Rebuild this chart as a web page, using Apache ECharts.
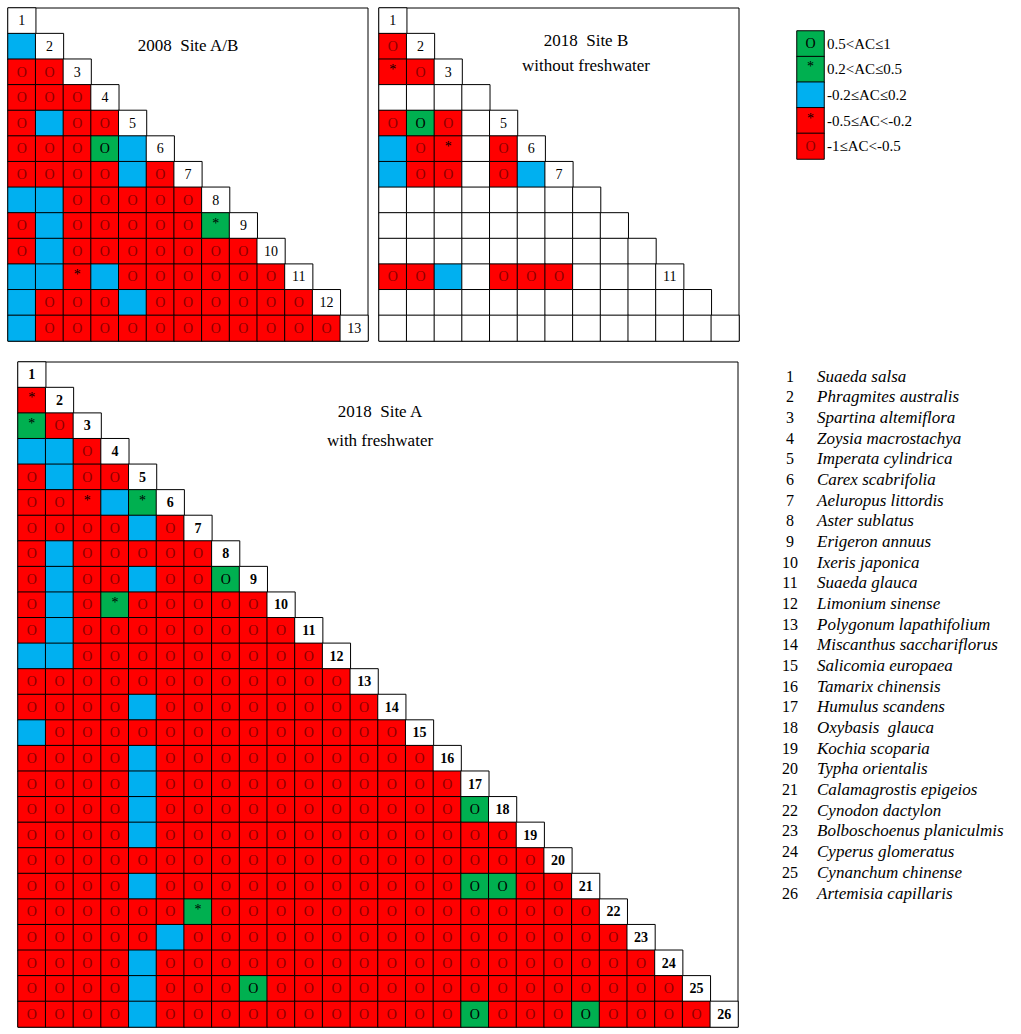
<!DOCTYPE html>
<html>
<head>
<meta charset="utf-8">
<script src="https://cdn.jsdelivr.net/npm/echarts@6/dist/echarts.min.js"></script>
<style>
html,body{margin:0;padding:0;background:#fff;}
#chart{width:1021px;height:1034px;}
</style>
</head>
<body>
<div id="chart"></div>
<script>
// Association classes: 5 = 0.5<AC≤1, 4 = 0.2<AC≤0.5, 3 = -0.2≤AC≤0.2, 2 = -0.5≤AC<-0.2, 1 = -1≤AC<-0.5, 0 = species absent
const classLabels = ['0.5<AC≤1', '0.2<AC≤0.5', '-0.2≤AC≤0.2', '-0.5≤AC<-0.2', '-1≤AC<-0.5'];
const classCodes = [5, 4, 3, 2, 1];

const species = [
  'Suaeda salsa', 'Phragmites australis', 'Spartina altemiflora', 'Zoysia macrostachya',
  'Imperata cylindrica', 'Carex scabrifolia', 'Aeluropus littordis', 'Aster sublatus',
  'Erigeron annuus', 'Ixeris japonica', 'Suaeda glauca', 'Limonium sinense',
  'Polygonum lapathifolium', 'Miscanthus sacchariflorus', 'Salicomia europaea',
  'Tamarix chinensis', 'Humulus scandens', 'Oxybasis  glauca', 'Kochia scoparia',
  'Typha orientalis', 'Calamagrostis epigeios', 'Cynodon dactylon',
  'Bolboschoenus planiculmis', 'Cyperus glomeratus', 'Cynanchum chinense', 'Artemisia capillaris'
];

// Lower-triangle rows (row i lists columns 1..i-1)
const siteAB2008 = [
  '',
  '3',
  '11',
  '111',
  '1311',
  '11153',
  '111131',
  '3311111',
  '13111114',
  '131111111',
  '3323111111',
  '31113111111',
  '311111111111'
];
const present2008 = [1,2,3,4,5,6,7,8,9,10,11,12,13];

const siteB2018 = [
  '',
  '1',
  '21',
  '000',
  '1510',
  '31201',
  '311013',
  '0000000',
  '00000000',
  '000000000',
  '1130111000',
  '00000000000',
  '000000000000'
];
const presentB2018 = [1,2,3,5,6,7,11];

const siteA2018 = [
  '',
  '2',
  '41',
  '331',
  '1311',
  '11234',
  '111131',
  '1311111',
  '13113115',
  '131411111',
  '1311111111',
  '33111111111',
  '111111111111',
  '1111311111111',
  '31111111111111',
  '111131111111111',
  '1111311111111111',
  '11113111111111115',
  '111131111111111111',
  '1111111111111111111',
  '11113111111111115511',
  '111111411111111111111',
  '1111131111111111111111',
  '11113111111111111111111',
  '111131115111111111111111',
  '1111311111111111511151111'
];
const presentA2018 = [1,2,3,4,5,6,7,8,9,10,11,12,13,14,15,16,17,18,19,20,21,22,23,24,25,26];

const RED = '#ff0000', BLUE = '#00b0f0', GREEN = '#00b050';
const SERIF = '"Liberation Serif", "Times New Roman", serif';

function buildCells(rows, present) {
  const data = [];
  rows.forEach((row, i) => {
    for (let j = 0; j < row.length; j++) data.push([j, i, Number(row[j])]);
    data.push([i, i, present.indexOf(i + 1) >= 0 ? -1 : 0]);
  });
  return data;
}

function labelFmt(p) {
  const c = p.value[2];
  if (c === -1) return '{d|' + (p.value[0] + 1) + '}';
  if (c === 5) return '{go|O}';
  if (c === 4 || c === 2) return '{st|*}';
  if (c === 1) return '{ro|O}';
  return '';
}
function richFor(bold) {
  return {
    ro: { color: '#8b0000', fontSize: 14, fontFamily: SERIF },
    go: { color: '#000', fontSize: 14, fontFamily: SERIF },
    st: { color: '#000', fontSize: 14, fontFamily: SERIF, padding: [0, 0, 5, 0] },
    d: { color: '#000', fontSize: 14, fontFamily: SERIF, fontWeight: bold ? 'bold' : 'normal' }
  };
}
function cats(n) { const a = []; for (let i = 1; i <= n; i++) a.push(String(i)); return a; }

function heat(gi, rows, present, bold) {
  return {
    type: 'heatmap', xAxisIndex: gi, yAxisIndex: gi,
    data: buildCells(rows, present),
    itemStyle: { borderColor: '#000', borderWidth: 1 },
    label: { show: true, formatter: labelFmt, rich: richFor(bold) },
    emphasis: { disabled: true }, silent: true, animation: false
  };
}

const grids = [
  { left: 8, top: 8, width: 360, height: 333 },
  { left: 379, top: 8, width: 360, height: 333 },
  { left: 18, top: 362, width: 720, height: 665 },
  { left: 797, top: 31, width: 27, height: 128 }
];
const sizes = [13, 13, 26];

const xAxes = [], yAxes = [];
for (let g = 0; g < 3; g++) {
  xAxes.push({ type: 'category', gridIndex: g, data: cats(sizes[g]), show: false });
  yAxes.push({ type: 'category', gridIndex: g, data: cats(sizes[g]), inverse: true, show: false });
}
xAxes.push({ type: 'category', gridIndex: 3, data: ['AC'], show: false });
yAxes.push({
  type: 'category', gridIndex: 3, data: classLabels, inverse: true, position: 'right',
  axisLine: { show: false }, axisTick: { show: false }, splitLine: { show: false },
  axisLabel: { margin: 3, fontSize: 15, fontFamily: SERIF, color: '#000' }
});

const legendData = classCodes.map((c, i) => [0, i, c]);

const graphics = [];
function txt(text, x, y, size, extra) {
  graphics.push({ type: 'text', silent: true, style: Object.assign({
    text: text, x: x, y: y, fill: '#000', font: size + 'px ' + SERIF,
    textAlign: 'center', textVerticalAlign: 'middle' }, extra || {}) });
}
txt('2008  Site A/B', 188, 45, 17);
txt('2018  Site B', 586, 40, 17);
txt('without freshwater', 586, 65, 17);
txt('2018  Site A', 380, 411, 17);
txt('with freshwater', 380, 440, 17);
species.forEach((s, i) => {
  const y = 376 + i * 20.68;
  txt(String(i + 1), 790, y, 16);
  txt(s, 817, y, 17, { textAlign: 'left', font: 'italic 17px ' + SERIF });
});

const chart = echarts.init(document.getElementById('chart'), null, { renderer: 'svg' });
chart.setOption({
  animation: false,
  backgroundColor: '#fff',
  grid: grids.map((g, i) => Object.assign({ show: i < 3, borderColor: '#000', borderWidth: 1, backgroundColor: 'transparent' }, g)),
  xAxis: xAxes,
  yAxis: yAxes,
  visualMap: {
    type: 'piecewise', show: false, dimension: 2, seriesIndex: [0, 1, 2, 3],
    pieces: [
      { value: -1, color: '#ffffff' }, { value: 0, color: '#ffffff' },
      { value: 1, color: RED }, { value: 2, color: RED }, { value: 3, color: BLUE },
      { value: 4, color: GREEN }, { value: 5, color: GREEN }
    ]
  },
  series: [
    heat(0, siteAB2008, present2008, false),
    heat(1, siteB2018, presentB2018, false),
    heat(2, siteA2018, presentA2018, true),
    {
      type: 'heatmap', xAxisIndex: 3, yAxisIndex: 3, data: legendData,
      itemStyle: { borderColor: '#000', borderWidth: 1 },
      label: { show: true, formatter: labelFmt, rich: richFor(false) },
      emphasis: { disabled: true }, silent: true, animation: false
    }
  ],
  graphic: graphics
});
</script>
</body>
</html>
